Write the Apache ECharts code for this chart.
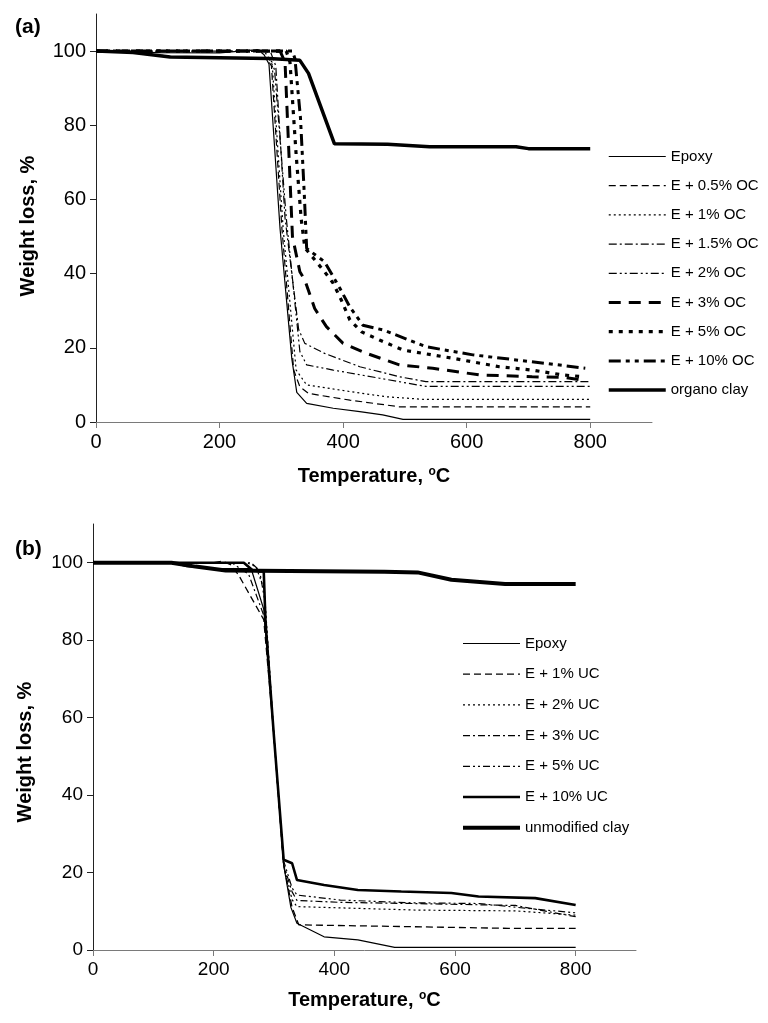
<!DOCTYPE html>
<html>
<head>
<meta charset="utf-8">
<script src="https://cdn.jsdelivr.net/npm/echarts@6/dist/echarts.min.js"></script>
<style>
html,body{margin:0;padding:0;background:#fff;}
#chart{width:768px;height:1023px;}
</style>
</head>
<body>
<div id="chart"></div>
<script>
// ---------- Data (a): organo clay ----------
const namesA = ['Epoxy','E + 0.5% OC','E + 1% OC','E + 1.5% OC','E + 2% OC','E + 3% OC','E + 5% OC','E + 10% OC','organo clay'];
const epoxyA = [[0,100],[100,99.6],[200,99.5],[262,100.4],[272,99],[280,96.5],[298,52],[317,17],[325,8],[341,5],[384,3.7],[427,2.8],[464,1.9],[497,0.7],[800,0.7]];
const oc05 = [[0,100],[70,99.5],[130,98.4],[276,98.1],[284,96],[301,52],[320,14],[330,9.5],[344,7.7],[411,5.9],[491,4.1],[800,4.1]];
const oc1 = [[0,100],[272,100],[285,97],[303,52],[324,14],[341,10],[411,8.2],[470,6.8],[530,6.1],[800,6.1]];
const oc15 = [[0,100],[282,100],[291,96],[306,55],[328,25],[338,21.2],[370,18.5],[427,14.9],[491,12.2],[534,10.9],[800,10.9]];
const oc2 = [[0,100],[70,99.5],[130,98.4],[280,98.1],[289,95],[308,55],[330,19],[341,15.4],[384,14],[459,11.8],[534,9.6],[800,9.6]];
const oc3 = [[0,100],[298,100],[306,97],[318,50],[330,40.5],[338,38.3],[354,30.6],[373,25.7],[400,21.2],[438,18.5],[491,15.4],[545,14.5],[620,12.7],[706,12.2],[760,12],[792,11.2]];
const oc5 = [[0,100],[308,100],[314,97],[324,72],[332,55],[338,47],[370,40.5],[384,37.4],[397,32.9],[411,27.5],[430,24.3],[459,22.1],[497,19.4],[577,17.2],[653,14.9],[706,14],[755,12.7],[790,12.2]];
const oc10 = [[0,100],[318,100],[322,98],[331,82],[337,62],[341,46.8],[370,43.2],[395,36],[411,31],[432,26.1],[465,24.8],[534,20.3],[610,18.1],[728,15.8],[792,14.5]];
const organo = [[0,100],[60,99.6],[120,98.4],[280,98],[330,97.5],[344,94],[386,75],[472,74.9],[540,74.2],[680,74.2],[700,73.7],[800,73.7]];

// ---------- Data (b): unmodified clay ----------
const namesB = ['Epoxy ','E + 1% UC','E + 2% UC','E + 3% UC','E + 5% UC','E + 10% UC','unmodified clay'];
const epoxyB = [[0,100],[130,100],[155,99],[200,98.5],[262,98.5],[283,88],[300,55],[316,22],[328,11],[338,6.9],[383,3.4],[439,2.6],[500,0.7],[800,0.7]];
const uc1 = [[0,100],[200,100],[215,100.4],[228,99.5],[241,96.9],[283,85.3],[300,55],[316,22],[330,11],[341,6.5],[533,6],[688,5.6],[800,5.6]];
const uc2 = [[0,100],[255,100],[270,99],[284,93],[300,55],[316,22],[330,13],[338,11.2],[538,10.3],[700,10.1],[800,9]];
const uc3 = [[0,100],[230,100],[258,97],[284,86],[300,55],[316,22],[330,15],[338,12.8],[410,12.3],[530,12],[700,11.5],[800,8.6]];
const uc5 = [[0,100],[262,100],[276,98],[285,90],[300,55],[316,23],[330,16],[338,14.2],[410,12.9],[527,12.2],[640,12],[716,10.8],[800,9.6]];
const uc10 = [[0,100],[250,100],[265,98],[283,97.7],[286,84.4],[300,55],[316,23.3],[330,22.4],[338,18.1],[341,17.6],[383,16.8],[439,15.5],[511,15.1],[594,14.7],[639,13.8],[733,13.4],[800,11.6]];
const unmod = [[0,100],[130,100],[170,99],[220,98],[483,97.7],[538,97.5],[594,95.6],[683,94.5],[800,94.5]];

// ---------- Tick labels ----------
const xTicks = [0,200,400,600,800];
const yTicks = [0,20,40,60,80,100];

const FONT = 'Liberation Sans, Arial, sans-serif';

const dataA = [epoxyA, oc05, oc1, oc15, oc2, oc3, oc5, oc10, organo];
const styleA = [
  {width:1.2, type:'solid'},
  {width:1.2, type:[7,4]},
  {width:1.2, type:[2,3]},
  {width:1.2, type:[8,3,2,3]},
  {width:1.2, type:[8,3,2,3,2,3]},
  {width:3, type:[12,8]},
  {width:3.2, type:[4,6]},
  {width:3, type:[12,5,4,5,4,5]},
  {width:3.5, type:'solid'}
];
const dataB = [epoxyB, uc1, uc2, uc3, uc5, uc10, unmod];
const styleB = [
  {width:1.2, type:'solid'},
  {width:1.3, type:[7,4]},
  {width:1.2, type:[2,3]},
  {width:1.2, type:[7,3,2,3]},
  {width:1.2, type:[7,3,2,3,2,3]},
  {width:2.6, type:'solid'},
  {width:4, type:'solid'}
];

function mkXAxis(gridIndex, fs, gap){
  return {
    type:'value', gridIndex, min:0, max:900, interval:100,
    name:'Temperature, {s|o}C', nameLocation:'middle', nameGap:gap,
    nameTextStyle:{fontFamily:FONT, fontWeight:'bold', fontSize:20, color:'#000',
      rich:{s:{fontFamily:FONT, fontWeight:'bold', fontSize:12, color:'#000', verticalAlign:'top', padding:[0,0,8,0]}}},
    axisLine:{show:true, onZero:false, lineStyle:{color:'#7a7a7a', width:1}},
    axisTick:{show:true, inside:false, length:6, customValues:xTicks, lineStyle:{color:'#7a7a7a'}},
    axisLabel:{customValues:xTicks, fontFamily:FONT, fontSize:fs, color:'#000', margin:10},
    splitLine:{show:false}
  };
}
function mkYAxis(gridIndex, fs, pad){
  return {
    type:'value', gridIndex, min:0, max:110, interval:10,
    name:'Weight loss, %', nameLocation:'middle', nameGap:58, nameRotate:90,
    nameTextStyle:{fontFamily:FONT, fontWeight:'bold', fontSize:20, color:'#000', padding:[0,pad,0,0]},
    axisLine:{show:true, onZero:false, lineStyle:{color:'#222', width:1}},
    axisTick:{show:true, inside:false, length:6, customValues:yTicks, lineStyle:{color:'#222'}},
    axisLabel:{customValues:yTicks, fontFamily:FONT, fontSize:fs, color:'#000', margin:10},
    splitLine:{show:false}
  };
}

const series = [];
namesA.forEach((n,i)=>{
  series.push({name:n, type:'line', xAxisIndex:0, yAxisIndex:0, data:dataA[i], symbol:'none', smooth:false,
    lineStyle:{color:'#000', width:styleA[i].width, type:styleA[i].type}, itemStyle:{color:'#000'}, z: 2+i});
});
namesB.forEach((n,i)=>{
  series.push({name:n, type:'line', xAxisIndex:1, yAxisIndex:1, data:dataB[i], symbol:'none', smooth:false,
    lineStyle:{color:'#000', width:styleB[i].width, type:styleB[i].type}, itemStyle:{color:'#000'}, z: 2+i});
});

const legendCommon = {
  orient:'vertical', padding:0, itemWidth:57, itemHeight:14,
  textStyle:{fontFamily:FONT, fontSize:15, color:'#000'}, selectedMode:false,
  itemStyle:{opacity:0, borderWidth:0},
  lineStyle:{width:'inherit', type:'inherit', color:'#000'}
};

const chart = echarts.init(document.getElementById('chart'), null, {renderer:'canvas'});
chart.setOption({
  animation:false,
  backgroundColor:'#fff',
  title:[
    {text:'(a)', left:10, top:12, textStyle:{fontFamily:FONT, fontWeight:'bold', fontSize:21, color:'#000'}},
    {text:'(b)', left:10, top:534, textStyle:{fontFamily:FONT, fontWeight:'bold', fontSize:21, color:'#000'}}
  ],
  grid:[
    {left:96, right:116, top:14, height:408},
    {left:93, right:132, top:524, height:426}
  ],
  xAxis:[mkXAxis(0,20,44), mkXAxis(1,19,40)],
  yAxis:[mkYAxis(0,20,16), mkYAxis(1,19,30)],
  legend:[
    Object.assign({}, legendCommon, {data:namesA, left:607, top:149, itemGap:14.2}),
    Object.assign({}, legendCommon, {data:namesB, left:461, top:636, itemGap:15.7,
      formatter:function(n){return n.trim();}})
  ],
  series
});
</script>
</body>
</html>
